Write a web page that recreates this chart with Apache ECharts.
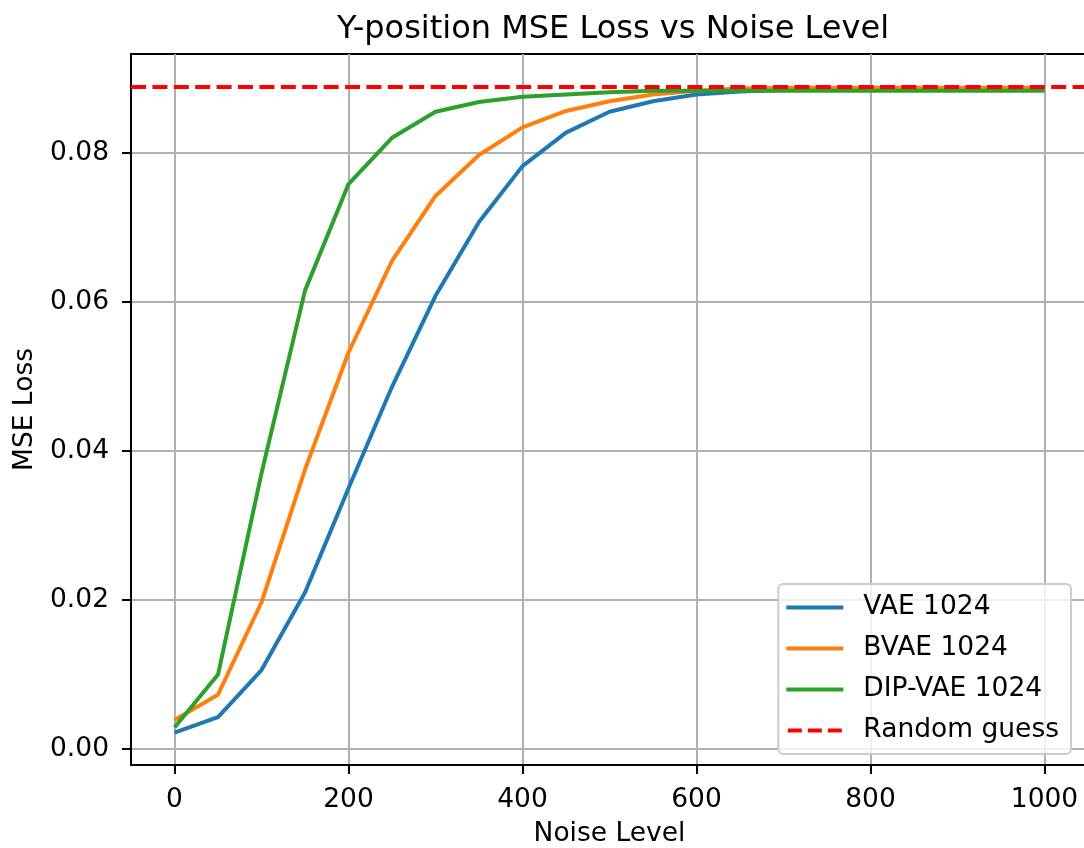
<!DOCTYPE html>
<html>
<head>
<meta charset="utf-8">
<title>Y-position MSE Loss vs Noise Level</title>
<script src="https://cdn.jsdelivr.net/npm/echarts@6/dist/echarts.min.js"></script>
<style>
  html, body { margin: 0; padding: 0; background: #ffffff; }
  #chart { width: 1084px; height: 848px; }
</style>
</head>
<body>
<div id="chart"></div>
<script>
// Noise levels evaluated
const noiseLevels = [0, 50, 100, 150, 200, 250, 300, 350, 400, 450, 500,
                     550, 600, 650, 700, 750, 800, 850, 900, 950, 1000];

// MSE loss of the y-position probe for each model
const vae1024 = [0.0022, 0.0043, 0.0106, 0.0210, 0.0350, 0.0486, 0.0608, 0.0707, 0.0782, 0.0827, 0.0855,
                 0.0869, 0.0878, 0.0882, 0.0884, 0.0884, 0.0884, 0.0884, 0.0884, 0.0884, 0.0884];
const bvae1024 = [0.0039, 0.0073, 0.0197, 0.0375, 0.0532, 0.0655, 0.0742, 0.0797, 0.0834, 0.0856, 0.0869,
                  0.0878, 0.0883, 0.0886, 0.0887, 0.0887, 0.0887, 0.0887, 0.0887, 0.0887, 0.0887];
const dipvae1024 = [0.0029, 0.0100, 0.0370, 0.0615, 0.0758, 0.0820, 0.0855, 0.0868, 0.0875, 0.0878, 0.0881,
                    0.0883, 0.0883, 0.0883, 0.0883, 0.0883, 0.0883, 0.0883, 0.0883, 0.0883, 0.0883];

// Baseline loss of a random guess
const randomGuess = 0.0889;

// Tick positions
const xTicks = [0, 200, 400, 600, 800, 1000];
const yTicks = [0, 0.02, 0.04, 0.06, 0.08];

// Axis extents (data range plus 5% margins)
const xRange = [-50, 1050];
const yRange = [-0.00213, 0.09324];

const FONT = 'DejaVu Sans';
const TEXT = '#000000';
const GRID = '#b0b0b0';
const FS = 26.5;

const pairs = (ys) => noiseLevels.map((x, i) => [x, ys[i]]);

const chart = echarts.init(document.getElementById('chart'), null, { renderer: 'canvas' });

const lineSeries = (name, color, ys, z) => ({
  name: name,
  type: 'line',
  data: pairs(ys),
  symbol: 'none',
  showSymbol: false,
  smooth: false,
  z: z,
  lineStyle: { color: color, width: 4 },
  itemStyle: { color: color },
  emphasis: { disabled: true }
});

const axisCommon = {
  type: 'value',
  nameLocation: 'middle',
  nameTextStyle: { fontFamily: FONT, fontSize: FS, color: TEXT },
  axisLine: { show: true, onZero: false, lineStyle: { color: '#000000', width: 2 } },
  splitLine: { show: true, lineStyle: { color: GRID, width: 2 } }
};

// Dashed legend handle: three dashes across the handle width
const dashedIcon = 'path://M0,0H14V4H0Z M20,0H34V4H20Z M40,0H54V4H40Z';

chart.setOption({
  animation: false,
  backgroundColor: '#ffffff',
  textStyle: { fontFamily: FONT },
  title: {
    text: 'Y-position MSE Loss vs Noise Level',
    left: 608,
    textAlign: 'center',
    top: 9,
    textStyle: { fontFamily: FONT, fontSize: 32, fontWeight: 'normal', color: TEXT }
  },
  grid: {
    left: 131,
    right: -4,
    top: 54,
    bottom: 83,
    show: true,
    borderColor: '#000000',
    borderWidth: 2,
    backgroundColor: 'transparent',
    containLabel: false,
    outerBoundsMode: 'none'
  },
  legend: {
    orient: 'vertical',
    right: 13,
    bottom: 94,
    padding: [10, 12, 10, 8],
    itemWidth: 57,
    itemHeight: 4,
    itemGap: 14,
    backgroundColor: 'rgba(255,255,255,0.8)',
    borderColor: '#cccccc',
    borderWidth: 2,
    borderRadius: 5,
    textStyle: { fontFamily: FONT, fontSize: FS, color: TEXT, lineHeight: 26, padding: [0, 0, 0, 15] },
    data: [
      { name: 'VAE 1024', icon: 'rect' },
      { name: 'BVAE 1024', icon: 'rect' },
      { name: 'DIP-VAE 1024', icon: 'rect' },
      { name: 'Random guess', icon: dashedIcon }
    ]
  },
  xAxis: Object.assign({}, axisCommon, {
    min: xRange[0],
    max: xRange[1],
    name: 'Noise Level',
    nameGap: 56,
    axisTick: { show: true, inside: false, length: 9, customValues: xTicks,
                lineStyle: { color: '#000000', width: 2 } },
    axisLabel: { fontFamily: FONT, fontSize: FS, color: TEXT, margin: 22, customValues: xTicks,
                 formatter: (v) => String(v) }
  }),
  yAxis: Object.assign({}, axisCommon, {
    min: yRange[0],
    max: yRange[1],
    name: 'MSE Loss',
    nameGap: 92,
    nameRotate: 90,
    axisTick: { show: true, inside: false, length: 9, customValues: yTicks,
                lineStyle: { color: '#000000', width: 2 } },
    axisLabel: {
      fontFamily: FONT, fontSize: FS, color: TEXT, margin: 22, customValues: yTicks,
      formatter: (v) => v.toFixed(2)
    }
  }),
  series: [
    lineSeries('VAE 1024', '#1f77b4', vae1024, 2),
    lineSeries('BVAE 1024', '#ff7f0e', bvae1024, 3),
    lineSeries('DIP-VAE 1024', '#2ca02c', dipvae1024, 4),
    {
      name: 'Random guess',
      type: 'line',
      data: [],
      symbol: 'none',
      z: 5,
      lineStyle: { color: '#ff0000', width: 4, type: [15, 6.4] },
      itemStyle: { color: '#ff0000' },
      markLine: {
        silent: true,
        precision: 6,
        symbol: ['none', 'none'],
        label: { show: false },
        lineStyle: { color: '#ff0000', width: 4, type: [15, 6.4] },
        emphasis: { disabled: true },
        data: [{ yAxis: randomGuess }]
      }
    }
  ]
});
</script>
</body>
</html>
